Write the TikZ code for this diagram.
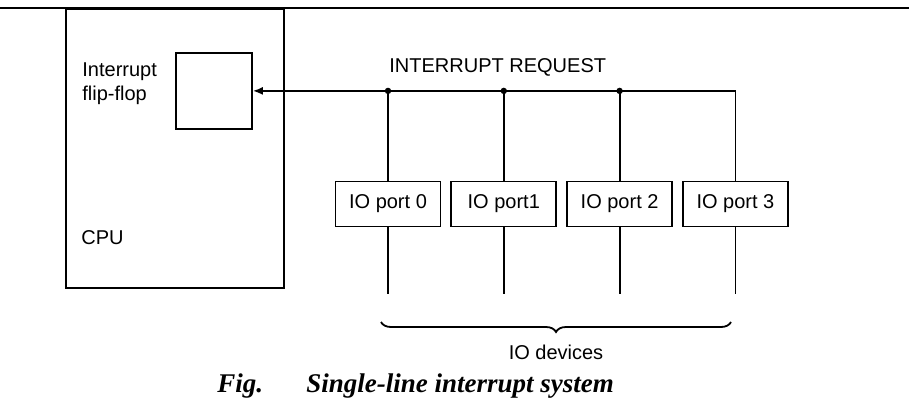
\documentclass[tikz,border=0pt]{standalone}
\usepackage{fontspec}
\setmainfont{Liberation Sans}
\newfontfamily\capfont{Liberation Serif}
\usetikzlibrary{arrows.meta,positioning,decorations.pathreplacing}

\begin{document}
\begin{tikzpicture}[x=0.5pt,y=-0.5pt,
  node distance=4.5pt,
  port/.style={draw,line width=0.9pt,minimum width=52.5pt,minimum height=22.5pt,
               inner sep=0pt,font=\fontsize{10}{11}\selectfont},
  lbl/.style={font=\fontsize{10}{12}\selectfont,inner sep=0pt},
  wire/.style={line width=0.9pt},
  arr/.style={-{Latex[length=5pt,width=4pt]},line width=0.9pt},
  dot/.style={circle,fill,inner sep=0pt,minimum size=3.2pt}]
\useasboundingbox (0,0) rectangle (909,406);
\draw[line width=1.2pt] (0,8) -- (909,8);
% CPU with its flip-flop
\node[draw,line width=0.9pt,minimum width=109pt,minimum height=139.5pt,anchor=north west] (cpu) at (65,8) {};
\node[draw,line width=0.9pt,minimum width=38pt,minimum height=38pt,anchor=north west] (ff) at (175,52) {};
\node[lbl,align=left,anchor=north west] (fflbl) at (82,62) {Interrupt\\flip-flop};
\node[lbl,anchor=west] (cpulbl) at (81,238) {CPU};
% IO ports
\node[port] (p0) at (388,204) {IO port 0};
\node[port,right=of p0] (p1) {IO port1};
\node[port,right=of p1] (p2) {IO port 2};
\node[port,right=of p2] (p3) {IO port 3};
\node[lbl,anchor=south west] (irq) at (389,77) {INTERRUPT REQUEST};
% request line
\coordinate (b0) at (p0.north |- ff.east);
\coordinate (b1) at (p1.north |- ff.east);
\coordinate (b2) at (p2.north |- ff.east);
\draw[arr] (p3.north) |- (ff.east);
\foreach \i in {0,1,2}{
  \draw[wire] (b\i) -- (p\i.north);
  \node[dot] at (b\i) {};}
\foreach \i in {0,...,3}{
  \coordinate (d\i) at ([yshift=-33.5pt]p\i.south);
  \draw[wire] (p\i.south) -- (d\i);}
\draw[wire,decorate,decoration={brace,mirror,amplitude=5pt}] (381,322) -- (731,322)
  node[midway,below=11pt,lbl] (dev) {IO devices};
\node[anchor=west,inner sep=0pt,font=\capfont\bfseries\itshape\fontsize{13.5}{15}\selectfont] (fig) at (217,386) {Fig.};
\node[anchor=west,inner sep=0pt,font=\capfont\bfseries\itshape\fontsize{13.5}{15}\selectfont] (cap) at (306,386) {Single-line interrupt system};
\end{tikzpicture}
\end{document}
